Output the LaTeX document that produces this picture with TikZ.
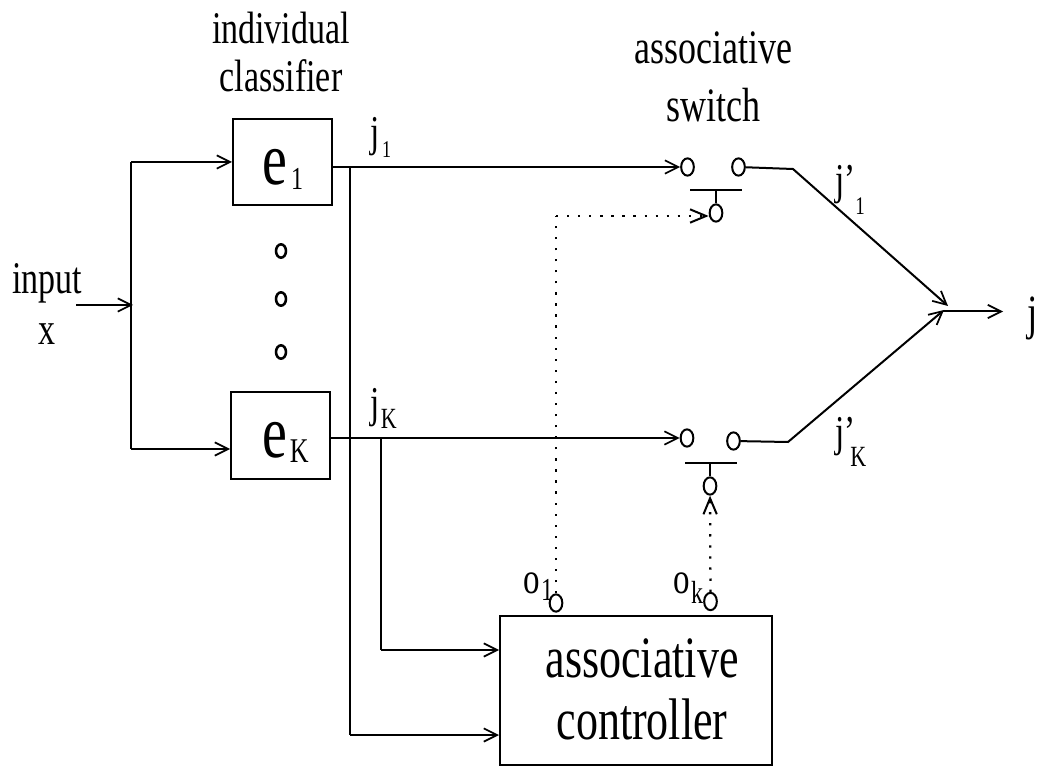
\documentclass[tikz,border=0pt]{standalone}
\usepackage{fontspec}
\setmainfont[FakeStretch=0.75]{Liberation Serif}
\usetikzlibrary{arrows.meta,shapes.geometric}
\newcommand{\fs}[1]{\fontsize{#1}{#1}\selectfont}
\newcommand{\dropped}[3]{\raisebox{-#2}{\fs{#1}#3}}
\tikzset{
  ln/.style={line width=1.5pt,black},
  arr/.style={ln,-{Straight Barb[length=10pt,width=10pt,line width=1.3pt]}},
  dot/.style={line width=1.7pt,dash pattern=on 1.7pt off 6.6pt},
  darr/.style={dot,-{Straight Barb[length=12pt,width=10pt,line width=1.5pt]}},
  box/.style={draw,line width=1.5pt,anchor=north west,inner sep=0pt},
  term/.style={draw,ellipse,line width=1.5pt,minimum width=9.5pt,minimum height=13pt,inner sep=0pt},
  tiny/.style={draw,ellipse,line width=1.9pt,minimum width=7.5pt,minimum height=10pt,inner sep=0pt},
  lab/.style={inner sep=0pt,anchor=base west},
  mt/.style={inner sep=0pt,align=center},
}
\begin{document}
\begin{tikzpicture}[x=0.75pt,y=-0.75pt]
\useasboundingbox (0,0) rectangle (1039,766);
% boxes
\node[box,minimum width=74.25pt,minimum height=64.5pt] (e1) at (232,118) {};
\node[box,minimum width=74.25pt,minimum height=65.25pt] (eK) at (230,391) {};
\node[box,minimum width=204pt,minimum height=111.75pt] (ctrl) at (499,615) {};
\node[lab,font=\fs{56}] at (262,185) {e\kern3pt\dropped{24}{3.75pt}{1}};
\node[lab,font=\fs{56}] at (262,458) {e\kern2pt\dropped{26}{3.75pt}{K}};
\node[mt,font=\fontsize{44}{46.5}\selectfont] at (642,689) {associative\\controller};
% texts
\node[mt,font=\fontsize{34}{36}\selectfont] at (281,52) {individual\\classifier};
\node[mt,font=\fontsize{36}{43}\selectfont] at (713,77) {associative\\switch};
\node[mt,font=\fontsize{34}{38}\selectfont] at (47,304) {input\\x};
\node[lab,font=\fs{37}] at (1027,330) {j};
\node[lab,font=\fs{33}] at (370,147) {j\kern2pt\dropped{18}{8pt}{1}};
\node[lab,font=\fs{33}] at (370,418) {j\kern1pt\dropped{22}{8pt}{K}};
\node[lab,font=\fs{33}] at (835,195) {j’\dropped{19}{15pt}{1}};
\node[lab,font=\fs{33}] at (835,447) {j’\kern-3.75pt\dropped{22}{15pt}{K}};
\node[lab,font=\fs{33}] at (523,593) {o\kern1pt\dropped{24}{5.5pt}{1}};
\node[lab,font=\fs{33}] at (673,593) {o\kern1pt\dropped{24}{7.5pt}{k}};
% dots
\node[tiny] (d1) at (281,251) {};
\node[tiny] (d2) at (281,299) {};
\node[tiny] (d3) at (281,352) {};
% terminals
\node[term] (a1) at (687.5,167) {};
\node[term] (b1) at (738.5,167) {};
\node[term] (c1) at (716,213) {};
\node[term] (aK) at (687,438) {};
\node[term] (bK) at (733.5,441) {};
\node[term] (cK) at (710,486) {};
\node[term] (o1) at (556,603) {};
\node[term] (oK) at (710.5,601.5) {};
% switch bars
\coordinate (s1l) at (690,190); \coordinate (s1r) at (742,190); \coordinate (s1m) at (716,190);
\coordinate (sKl) at (685,463); \coordinate (sKr) at (737,463); \coordinate (sKm) at (710,463);
\draw[ln] (s1l) -- (s1r);
\draw[ln] (s1m) -- (c1);
\draw[ln] (sKl) -- (sKr);
\draw[ln] (sKm) -- (cK);
% input
\coordinate (in) at (76,305); \coordinate (jn) at (133,305);
\coordinate (t) at (131,162); \coordinate (b) at (131,449);
\draw[arr] (in) -- (jn);
\draw[ln] (t) -- (b);
\draw[arr] (t) -- (e1.west |- t);
\draw[arr] (b) -- (eK.west |- b);
% classifier outputs
\draw[arr] (e1.east |- a1) -- (a1);
\draw[arr] (eK.east |- aK) -- (aK);
\coordinate (v1) at (350,167); \coordinate (v1b) at (350,735);
\coordinate (vK) at (381,438); \coordinate (vKb) at (381,650);
\draw[ln] (v1) -- (v1b);
\draw[arr] (v1b) -- (ctrl.west |- v1b);
\draw[ln] (vK) -- (vKb);
\draw[arr] (vKb) -- (ctrl.west |- vKb);
% dotted control
\coordinate (cor) at (o1 |- 0,216);
\draw[dot] (o1) -- (cor);
\draw[darr] (cor) -- (c1.west |- cor);
\draw[darr] (oK) -- (cK);
% outputs
\coordinate (k1) at (793,169); \coordinate (kK) at (788,442);
\coordinate (m1) at (948,306); \coordinate (mK) at (944,310);
\coordinate (ms) at (943,311.5);
\coordinate (out) at (1003,311.5);
\draw[arr] (b1) -- (k1) -- (m1);
\draw[arr] (bK) -- (kK) -- (mK);
\draw[arr] (ms) -- (out);
\end{tikzpicture}
\end{document}
